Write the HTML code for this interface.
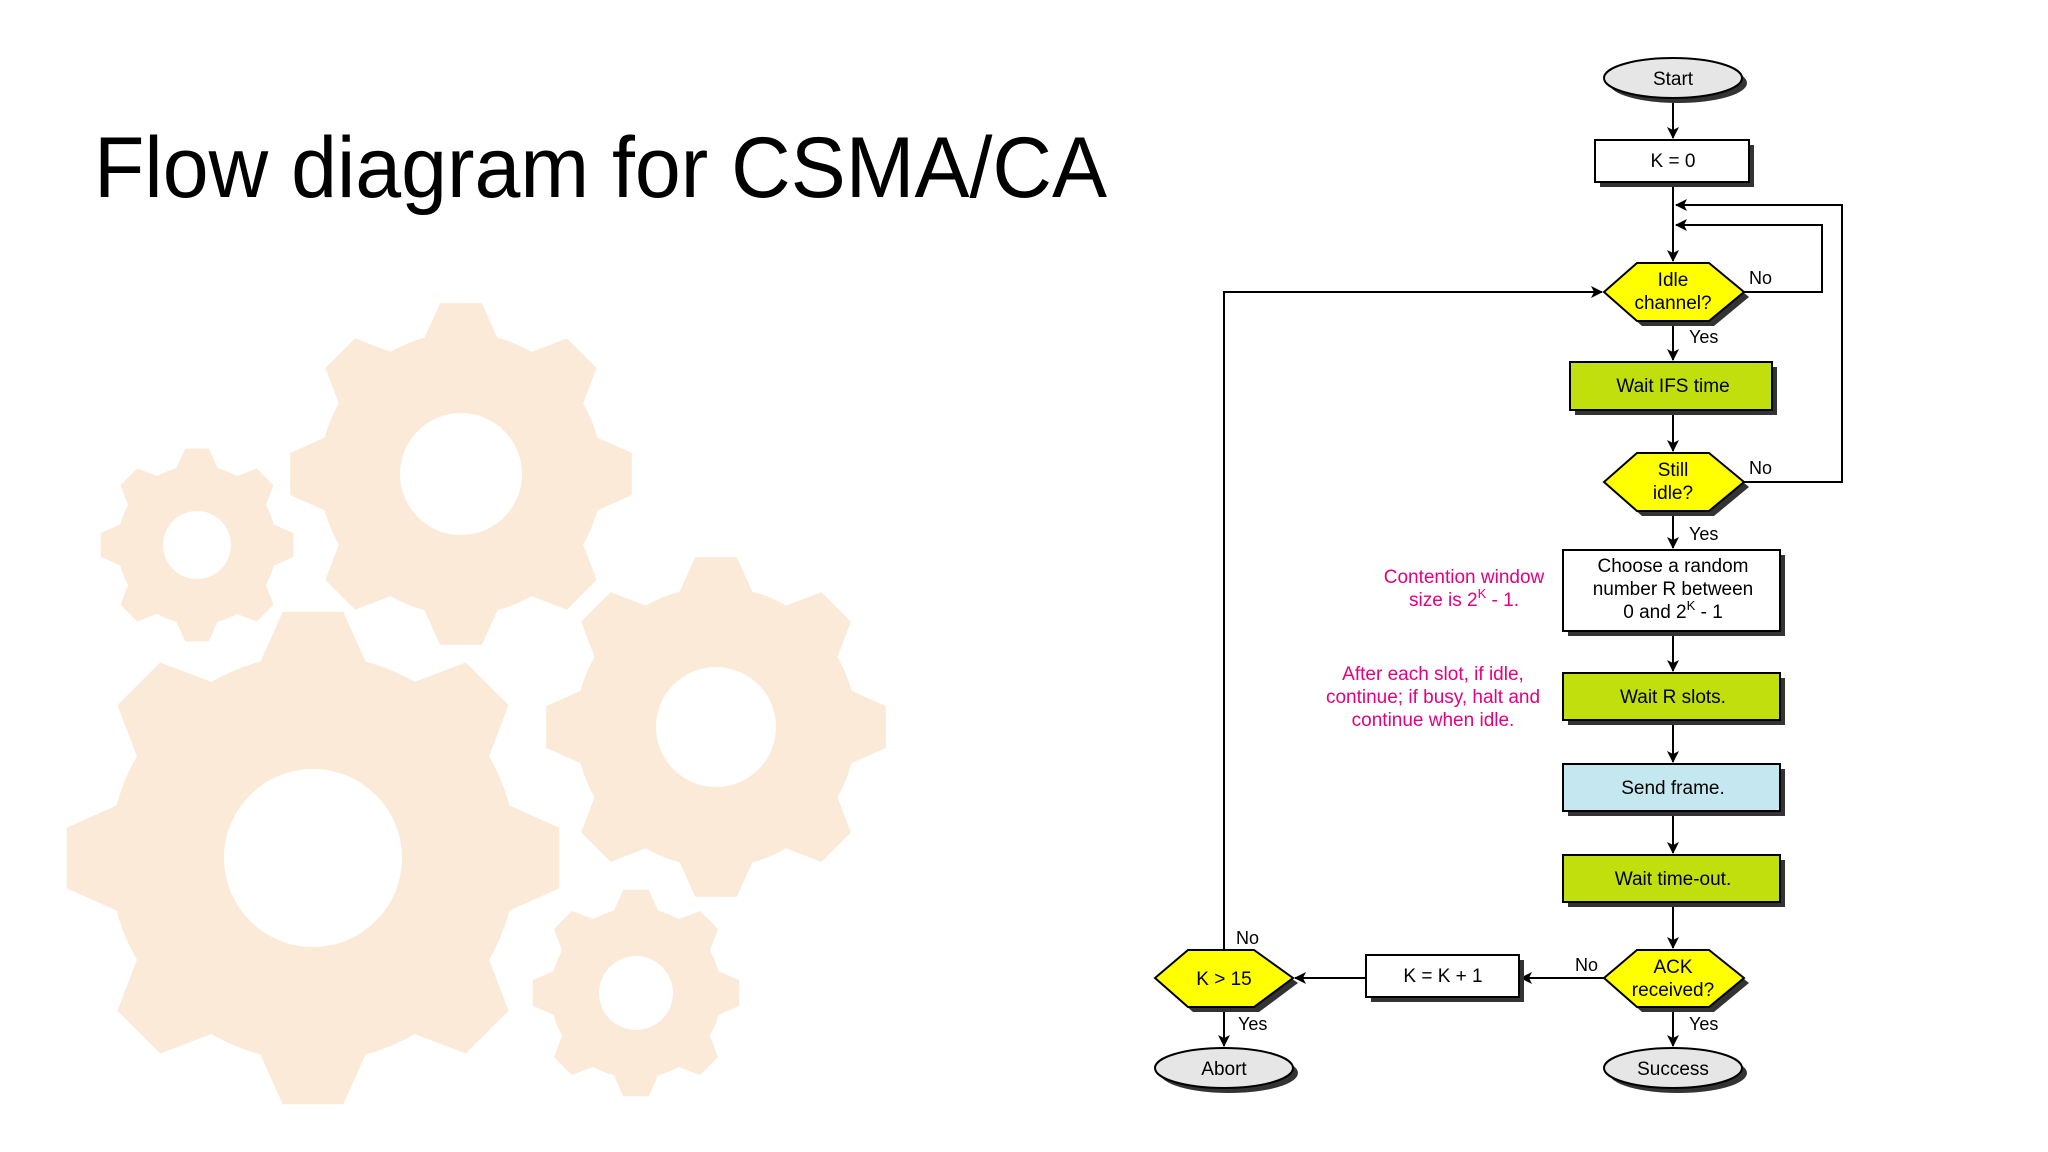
<!DOCTYPE html>
<html><head><meta charset="utf-8"><style>
html,body{margin:0;padding:0;background:#fff;}
svg{display:block;}
text{font-family:"Liberation Sans",sans-serif;}
</style></head><body>
<svg width="2048" height="1152" viewBox="0 0 2048 1152" xmlns="http://www.w3.org/2000/svg">
<defs>
<g id="gear">
<circle r="0.82" cx="0" cy="0"/>
<polygon id="tooth" points="-0.212,-0.792 -0.122,-0.993 0.122,-0.993 0.212,-0.792"/>
<use href="#tooth" transform="rotate(45)"/>
<use href="#tooth" transform="rotate(90)"/>
<use href="#tooth" transform="rotate(135)"/>
<use href="#tooth" transform="rotate(180)"/>
<use href="#tooth" transform="rotate(225)"/>
<use href="#tooth" transform="rotate(270)"/>
<use href="#tooth" transform="rotate(315)"/>
</g>
<marker id="ar" viewBox="0 0 12 12" refX="11" refY="6" markerWidth="12" markerHeight="12" markerUnits="userSpaceOnUse" orient="auto">
<path d="M0,0 L12,6 L0,12 L3,6 Z" fill="#000"/>
</marker>
</defs>

<!-- gears -->
<g fill="#fbead7">
<use href="#gear" transform="translate(313,858) scale(248)"/>
<use href="#gear" transform="translate(461,474) scale(172)"/>
<use href="#gear" transform="translate(716,727) scale(171)"/>
<use href="#gear" transform="translate(197,545) scale(97)"/>
<use href="#gear" transform="translate(636,993) scale(104)"/>
</g>
<g fill="#fff">
<circle cx="313" cy="858" r="89"/>
<circle cx="461" cy="474" r="61"/>
<circle cx="716" cy="727" r="60"/>
<circle cx="197" cy="545" r="34"/>
<circle cx="636" cy="993" r="37"/>
</g>

<!-- title -->
<text x="94" y="197" font-size="86" textLength="1013" lengthAdjust="spacingAndGlyphs" fill="#000">Flow diagram for CSMA/CA</text>

<!-- connectors -->
<g stroke="#000" stroke-width="2" fill="none">
<line x1="1673" y1="98" x2="1673" y2="138" marker-end="url(#ar)"/>
<line x1="1673" y1="182" x2="1673" y2="261" marker-end="url(#ar)"/>
<polyline points="1744,292 1822,292 1822,225 1676,225" marker-end="url(#ar)"/>
<polyline points="1744,482 1842,482 1842,205 1676,205" marker-end="url(#ar)"/>
<line x1="1673" y1="321" x2="1673" y2="360" marker-end="url(#ar)"/>
<line x1="1673" y1="410" x2="1673" y2="451" marker-end="url(#ar)"/>
<line x1="1673" y1="511" x2="1673" y2="548" marker-end="url(#ar)"/>
<line x1="1673" y1="631" x2="1673" y2="671" marker-end="url(#ar)"/>
<line x1="1673" y1="720" x2="1673" y2="762" marker-end="url(#ar)"/>
<line x1="1673" y1="811" x2="1673" y2="853" marker-end="url(#ar)"/>
<line x1="1673" y1="902" x2="1673" y2="948" marker-end="url(#ar)"/>
<line x1="1673" y1="1007" x2="1673" y2="1046" marker-end="url(#ar)"/>
<line x1="1604" y1="978" x2="1521" y2="978" marker-end="url(#ar)"/>
<line x1="1366" y1="978" x2="1295" y2="978" marker-end="url(#ar)"/>
<line x1="1224" y1="1007" x2="1224" y2="1046" marker-end="url(#ar)"/>
<polyline points="1224,950 1224,292 1602,292" marker-end="url(#ar)"/>
</g>

<!-- shadows -->
<g fill="#333">
<ellipse cx="1678" cy="83" rx="69" ry="20"/>
<rect x="1600" y="145" width="154" height="42"/>
<polygon points="1642,268 1714,268 1749,297 1714,326 1642,326 1609,297"/>
<rect x="1575" y="367" width="202" height="48"/>
<polygon points="1642,458 1714,458 1749,487 1714,516 1642,516 1609,487"/>
<rect x="1568" y="555" width="217" height="81"/>
<rect x="1568" y="678" width="217" height="47"/>
<rect x="1568" y="769" width="217" height="47"/>
<rect x="1568" y="860" width="217" height="47"/>
<polygon points="1642,955 1714,955 1749,983 1714,1012 1642,1012 1609,983"/>
<rect x="1371" y="960" width="153" height="42"/>
<polygon points="1193,955 1259,955 1298,983 1259,1012 1193,1012 1160,983"/>
<ellipse cx="1229" cy="1073" rx="69" ry="20"/>
<ellipse cx="1678" cy="1073" rx="69" ry="20"/>
</g>

<!-- nodes -->
<g stroke="#000" stroke-width="2">
<ellipse cx="1673" cy="78" rx="69" ry="20" fill="#e6e6e6"/>
<rect x="1595" y="140" width="154" height="42" fill="#fff"/>
<polygon points="1637,263 1709,263 1744,292 1709,321 1637,321 1604,292" fill="#ffff00"/>
<rect x="1570" y="362" width="202" height="48" fill="#c0df0c"/>
<polygon points="1637,453 1709,453 1744,482 1709,511 1637,511 1604,482" fill="#ffff00"/>
<rect x="1563" y="550" width="217" height="81" fill="#fff"/>
<rect x="1563" y="673" width="217" height="47" fill="#c0df0c"/>
<rect x="1563" y="764" width="217" height="47" fill="#c5e8f0"/>
<rect x="1563" y="855" width="217" height="47" fill="#c0df0c"/>
<polygon points="1637,950 1709,950 1744,978 1709,1007 1637,1007 1604,978" fill="#ffff00"/>
<rect x="1366" y="955" width="153" height="42" fill="#fff"/>
<polygon points="1188,950 1254,950 1293,978 1254,1007 1188,1007 1155,978" fill="#ffff00"/>
<ellipse cx="1224" cy="1068" rx="69" ry="20" fill="#e6e6e6"/>
<ellipse cx="1673" cy="1068" rx="69" ry="20" fill="#e6e6e6"/>
</g>

<!-- node text -->
<g font-size="19" fill="#000" text-anchor="middle">
<text x="1673" y="85">Start</text>
<text x="1673" y="167">K = 0</text>
<text x="1673" y="286">Idle</text>
<text x="1673" y="309">channel?</text>
<text x="1673" y="392">Wait IFS time</text>
<text x="1673" y="476">Still</text>
<text x="1673" y="499">idle?</text>
<text x="1673" y="572">Choose a random</text>
<text x="1673" y="595">number R between</text>
<text x="1673" y="618">0 and 2<tspan font-size="13" dy="-8">K</tspan><tspan dy="8"> - 1</tspan></text>
<text x="1673" y="703">Wait R slots.</text>
<text x="1673" y="794">Send frame.</text>
<text x="1673" y="885">Wait time-out.</text>
<text x="1673" y="973">ACK</text>
<text x="1673" y="996">received?</text>
<text x="1443" y="982">K = K + 1</text>
<text x="1224" y="985">K &gt; 15</text>
<text x="1224" y="1075">Abort</text>
<text x="1673" y="1075">Success</text>
</g>
<!-- branch labels -->
<g font-size="18" fill="#000">
<text x="1749" y="284">No</text>
<text x="1689" y="343">Yes</text>
<text x="1749" y="474">No</text>
<text x="1689" y="540">Yes</text>
<text x="1575" y="971">No</text>
<text x="1689" y="1030">Yes</text>
<text x="1236" y="944">No</text>
<text x="1238" y="1030">Yes</text>
</g>
<!-- annotations -->
<g font-size="19" fill="#e6007e" text-anchor="middle">
<text x="1464" y="583">Contention window</text>
<text x="1464" y="606">size is 2<tspan font-size="13" dy="-8">K</tspan><tspan dy="8"> - 1.</tspan></text>
<text x="1433" y="680">After each slot, if idle,</text>
<text x="1433" y="703">continue; if busy, halt and</text>
<text x="1433" y="726">continue when idle.</text>
</g>
</svg>
</body></html>
